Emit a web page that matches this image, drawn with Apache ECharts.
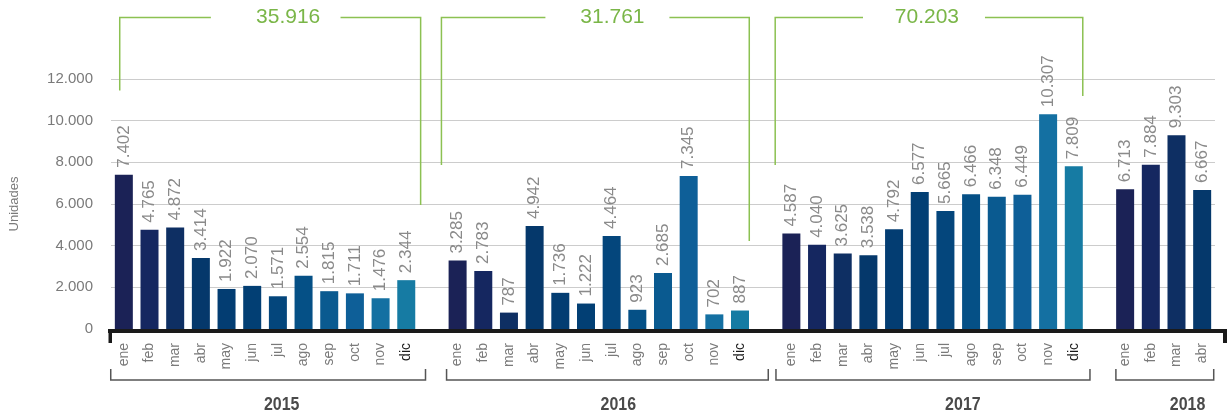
<!DOCTYPE html>
<html>
<head>
<meta charset="utf-8">
<script src="https://cdn.jsdelivr.net/npm/echarts@6/dist/echarts.min.js"></script>
<style>
html,body{margin:0;padding:0;background:#fff;}
#c{width:1227px;height:418px;}
</style>
</head>
<body>
<div id="c"></div>
<script>
// ---- data ----
var months = ['ene','feb','mar','abr','may','jun','jul','ago','sep','oct','nov','dic'];
var months2018 = ['ene','feb','mar','abr'];
var years = ['2015','2016','2017','2018'];
var v2015 = [7402,4765,4872,3414,1922,2070,1571,2554,1815,1711,1476,2344];
var v2016 = [3285,2783,787,4942,1736,1222,4464,923,2685,7345,702,887];
var v2017 = [4587,4040,3625,3538,4792,6577,5665,6466,6348,6449,10307,7809];
var v2018 = [6713,7884,9303,6667];
var yearTotals = [35916,31761,70203];
var yTicks = [0,2000,4000,6000,8000,10000,12000];

// ---- styles ----
var monthColors = ['#1b2256','#152760','#0e2f63','#05386b','#033d72','#023f74',
                   '#04467c','#055086','#0a5a90','#0e5f98','#1470a2','#167ba3'];
var green = '#8cc152';
var fmt = function(n){ return String(n).replace(/\B(?=(\d{3})+(?!\d))/g,'.'); };

// build categories and bar items
var cats = [], bars = [];
function addYear(vals, names){
  vals.forEach(function(v,i){
    var isDic = names[i]==='dic';
    cats.push(isDic ? {value:names[i], textStyle:{color:'#1a1a1a'}} : names[i]);
    bars.push({value:v, itemStyle:{color:monthColors[i]}});
  });
}
function addGap(){ cats.push(''); bars.push(null); }
addYear(v2015, months); addGap();
addYear(v2016, months); addGap();
addYear(v2017, months); addGap();
addYear(v2018, months2018);

var chart = echarts.init(document.getElementById('c'), null, {renderer:'canvas'});
chart.setOption({
  animation:false,
  grid:{left:110, right:12, top:79, bottom:89},
  xAxis:{
    type:'category', data:cats,
    axisLine:{show:false}, axisTick:{show:false},
    axisLabel:{interval:0, rotate:90, margin:14, color:'#7a7a7a', fontSize:14,
               fontFamily:'Liberation Sans, Arial, sans-serif'}
  },
  yAxis:{
    type:'value', min:yTicks[0], max:yTicks[yTicks.length-1], interval:2000,
    name:'Unidades', nameLocation:'middle', nameGap:90,
    nameTextStyle:{color:'#7a7a7a', fontSize:13, fontFamily:'Liberation Sans, Arial, sans-serif'},
    axisLine:{show:false}, axisTick:{show:false},
    axisLabel:{margin:18, color:'#7a7a7a', fontSize:15, formatter:fmt,
               fontFamily:'Liberation Sans, Arial, sans-serif'},
    splitLine:{lineStyle:{color:'#cccccc', width:1}}
  },
  series:[{
    type:'bar', data:bars, barWidth:18,
    label:{show:true, position:'top', rotate:90, align:'left', verticalAlign:'middle',
           distance:7, color:'#8a8a8a', fontSize:17,
           fontFamily:'Liberation Sans, Arial, sans-serif',
           formatter:function(p){ return fmt(p.value); }}
  }]
});

// ---- annotations placed through the chart's scales ----
var p0 = chart.convertToPixel({xAxisIndex:0}, 0);
var p1 = chart.convertToPixel({xAxisIndex:0}, 1);
var sw = p1 - p0;
function X(f){ return p0 + f*sw; }
function Y(v){ return chart.convertToPixel({yAxisIndex:0}, v); }
var y0 = Y(0);

// green total brackets (slot positions, value-space ends)
var greenLayout = [
  {l:-0.16, r:11.56, g1:3.39, g2:8.44, t:6.4,  lv:11450, rv:5950},
  {l:12.37, r:24.36, g1:16.42, g2:21.25, t:19.03, lv:7870, rv:4220},
  {l:25.37, r:37.35, g1:28.79, g2:33.54, t:31.28, lv:7870, rv:11180}
];
var topV = 14950;
var g = [];
greenLayout.forEach(function(b,i){
  var ls = {stroke:green, lineWidth:1.5};
  g.push({type:'polyline', shape:{points:[[X(b.l),Y(b.lv)],[X(b.l),Y(topV)],[X(b.g1),Y(topV)]]}, style:ls, silent:true});
  g.push({type:'polyline', shape:{points:[[X(b.g2),Y(topV)],[X(b.r),Y(topV)],[X(b.r),Y(b.rv)]]}, style:ls, silent:true});
  g.push({type:'text', x:X(b.t), y:Y(topV), style:{text:fmt(yearTotals[i]), fill:'#7ab648',
          font:'21px Liberation Sans, Arial, sans-serif', textAlign:'center', textVerticalAlign:'middle'}, silent:true});
});

// x axis heavy base line
g.push({type:'rect', shape:{x:108, y:y0, width:1227-108, height:4}, style:{fill:'#1a1a1a'}, silent:true});
g.push({type:'rect', shape:{x:X(-0.5)-2.5, y:y0, width:3.5, height:14}, style:{fill:'#1a1a1a'}, silent:true});
g.push({type:'rect', shape:{x:1223, y:y0, width:4, height:14}, style:{fill:'#1a1a1a'}, silent:true});

// year brackets below axis
var yearLayout = [
  {l:-0.51, r:11.75, t:6.15},
  {l:12.57, r:25.1,  t:19.26},
  {l:25.4,  r:37.63, t:32.68},
  {l:38.64, r:42.45, t:41.43}
];
var by = y0 + 51, bt = y0 + 40;
yearLayout.forEach(function(b,i){
  g.push({type:'polyline', shape:{points:[[X(b.l),bt],[X(b.l),by],[X(b.r),by],[X(b.r),bt]]},
          style:{stroke:'#555', lineWidth:1.5}, silent:true});
  g.push({type:'text', x:X(b.t), y:y0+76, scaleX:0.84, style:{text:years[i], fill:'#4a4a4a',
          font:'bold 19px "Liberation Sans", Arial, sans-serif',
          textAlign:'center', textVerticalAlign:'middle'}, silent:true});
});

chart.setOption({graphic:g});
</script>
</body>
</html>
